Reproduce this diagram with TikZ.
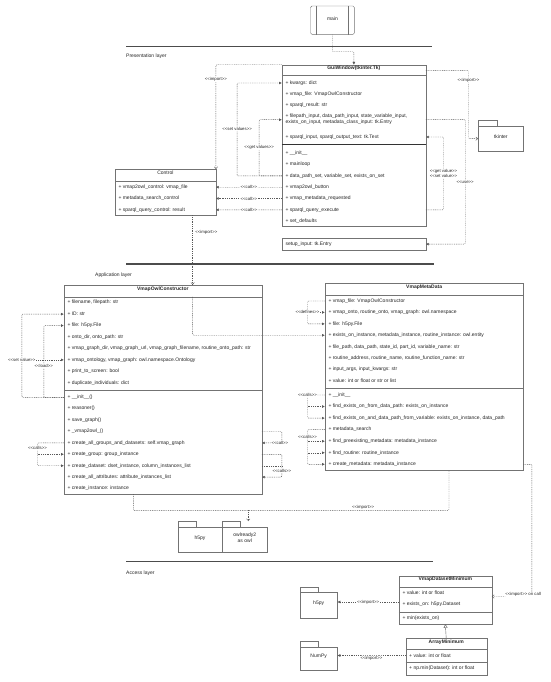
\documentclass[tikz,border=0pt]{standalone}
\usepackage{fontspec}
\setmainfont{Liberation Sans}
\usetikzlibrary{arrows.meta,positioning,fit}
\newcommand{\stype}[1]{<{}<#1>{}>}

\begin{document}
\begin{tikzpicture}[x=1pt,y=-1pt,thin,font=\fontsize{5}{6}\selectfont,text=black!85]
\tikzstyle{cls}=[draw=black!55, inner sep=0pt, fill=white]
\tikzstyle{hdr}=[cls, font=\fontsize{5}{6}\selectfont\bfseries]
\tikzstyle{attr}=[anchor=west, inner sep=0pt, align=left]
\tikzstyle{pkg}=[draw=black!55, inner sep=0pt, align=center]
\tikzstyle{layerline}=[draw=black!70, line width=1.4pt]
\tikzstyle{dep}=[draw=black!65, dash pattern=on 0.9pt off 0.9pt, rounded corners=1pt]
\tikzstyle{lbl}=[fill=white, inner sep=0.5pt, font=\fontsize{4.3}{4.8}\selectfont]
\tikzstyle{filledtip}=[-{Latex[length=2.8pt,width=2.8pt]}]
\tikzstyle{opentip}=[-{Straight Barb[length=2pt,width=3.4pt]}]

\fill[white] (0,0) rectangle (550,682);
\useasboundingbox (0,0) rectangle (550,682);

\node[cls, rounded corners=1.5pt, fit={(310.5,6) (354.4,34.4)}] (main) {main};
\draw[black!55] ([xshift=6pt]main.north west) -- ([xshift=6pt]main.south west)
  ([xshift=-6.4pt]main.north east) -- ([xshift=-6.4pt]main.south east);

\draw[layerline] (126,46.7) -- (432,46.7);
\node[attr] (presl) at (126,56) {Presentation layer};
\draw[layerline] (126,264) -- (434,264);
\node[attr] (appl) at (95,275) {Application layer};
\draw[layerline] (126,561.7) -- (433,561.7);
\node[attr] (accl) at (126,573) {Access layer};

\node[cls, fit={(282,65) (425.7,226)}] (gui) {};
\node[hdr, fit={(282,65) (425.7,75.7)}] (guit) {GuiWindow(tkinter.Tk)};
\draw[black!80, line width=0.6pt] (gui.west |- 0,144.7) -- (gui.east |- 0,144.7);
\foreach \t [count=\i] in {{+ kwargs: dict}, {+ vmap\_file: VmapOwlConstructor}, {+ sparql\_result: str}}
  \node[attr] (g\i) at (285.3,{83+11.3*(\i-1)}) {\t};
\node[attr] (g4) at (285.3,119.7) {+ filepath\_input, data\_path\_input, state\_variable\_input,\\exists\_on\_input, metadata\_class\_input: tk.Entry};
\node[attr] (g5) at (285.3,137) {+ sparql\_input, sparql\_output\_text: tk.Text};
\foreach \t [count=\i] in {{+ \_\_init\_\_}, {+ mainloop}, {+ data\_path\_set, variable\_set, exists\_on\_set}, {+ vmap2owl\_button}, {+ vmap\_metadata\_requested}, {+ sparql\_query\_execute}, {+ set\_defaults}}
  \node[attr] (m\i) at (285.3,{153.3+11.3*(\i-1)}) {\t};

\node[cls, fit={(282,238.3) (425.7,250)}] (setup) {};
\node[attr] (setupt) at (285.3,244.3) {setup\_input: tk.Entry};

\node[pkg, fit={(478.3,120.3) (496.7,126.3)}] (tkt) {};
\node[pkg, fit={(478.3,126.3) (523.3,151)}] (tkb) {tkinter};

\node[cls, fit={(115,169.3) (215.7,215)}] (control) {};
\node[cls, fit={(115,169.3) (215.7,180.7)}] (controlt) {Control};
\foreach \t [count=\i] in {{+ vmap2owl\_control: vmap\_file}, {+ metadata\_search\_control}, {+ sparql\_query\_control: result}}
  \node[attr] (c\i) at (118.3,{187.2+11.3*(\i-1)}) {\t};

\node[cls, fit={(64,285) (261.7,494)}] (owl) {};
\node[hdr, fit={(64,285) (261.7,296.7)}] (owlt) {VmapOwlConstructor};
\draw[black!55] (owl.west |- 0,389.7) -- (owl.east |- 0,389.7);
\foreach \t [count=\i] in {{+ filename, filepath: str}, {+ ID: str}, {+ file: h5py.File}, {+ onto\_dir, onto\_path: str}, {+ vmap\_graph\_dir, vmap\_graph\_url, vmap\_graph\_filename, routine\_onto\_path: str}, {+ vmap\_ontology, vmap\_graph: owl.namespace.Ontology}, {+ print\_to\_screen: bool}, {+ duplicate\_individuals: dict}}
  \node[attr] (oa\i) at (67.3,{302.7+11.43*(\i-1)}) {\t};
\foreach \t [count=\i] in {{+ \_\_init\_\_()}, {+ reasoner()}, {+ save\_graph()}, {+ \_vmap2owl\_()}, {+ create\_all\_groups\_and\_datasets: self.vmap\_graph}, {+ create\_group: group\_instance}, {+ create\_dataset: dset\_instance, column\_instances\_list}, {+ create\_all\_attributes: attribute\_instances\_list}, {+ create\_instance: instance}}
  \node[attr] (om\i) at (67.3,{397.3+11.4*(\i-1)}) {\t};

\node[cls, fit={(325,283.3) (523.3,470)}] (meta) {};
\node[hdr, fit={(325,283.3) (523.3,295)}] (metat) {VmapMetaData};
\draw[black!55] (meta.west |- 0,387.7) -- (meta.east |- 0,387.7);
\foreach \t [count=\i] in {{+ vmap\_file: VmapOwlConstructor}, {+ vmap\_onto, routine\_onto, vmap\_graph: owl.namespace}, {+ file: h5py.File}, {+ exists\_on\_instance, metadata\_instance, routine\_instance: owl.entity}, {+ file\_path, data\_path, state\_id, part\_id, variable\_name: str}, {+ routine\_address, routine\_name, routine\_function\_name: str}, {+ input\_args, input\_kwargs: str}, {+ value: int or float or str or list}}
  \node[attr] (e\i) at (328.3,{301+11.43*(\i-1)}) {\t};
\foreach \t [count=\i] in {{+ \_\_init\_\_}, {+ find\_exists\_on\_from\_data\_path: exists\_on\_instance}, {+ find\_exists\_on\_and\_data\_path\_from\_variable: exists\_on\_instance, data\_path}, {+ metadata\_search}, {+ find\_preexisting\_metadata: metadata\_instance}, {+ find\_routine: routine\_instance}, {+ create\_metadata: metadata\_instance}}
  \node[attr] (n\i) at (328.3,{395+11.55*(\i-1)}) {\t};

\node[pkg, fit={(177.7,521.3) (195.7,527.3)}] (h5t) {};
\node[pkg, fit={(177.7,527.3) (222.3,552.3)}] (h5b) {h5py};
\node[pkg, fit={(222.3,521.3) (240.3,527.3)}] (owt) {};
\node[pkg, fit={(222.3,527.3) (267.3,552.3)}] (owb) {owlready2\\as owl};

\node[cls, fit={(399,575.7) (491.7,624)}] (dsmin) {};
\node[hdr, fit={(399,575.7) (491.7,586.7)}] (dsmint) {VmapDatasetMinimum};
\draw[black!55] (dsmin.west |- 0,611.7) -- (dsmin.east |- 0,611.7);
\node[attr] (d1) at (402.3,593) {+ value: int or float};
\node[attr] (d2) at (402.3,604) {+ exists\_on: h5py.Dataset};
\node[attr] (d3) at (402.3,618.3) {+ min(exists\_on)};

\node[cls, fit={(405.7,638.3) (486.7,675)}] (arrmin) {};
\node[hdr, fit={(405.7,638.3) (486.7,649.3)}] (arrmint) {ArrayMinimum};
\draw[black!55] (arrmin.west |- 0,661.7) -- (arrmin.east |- 0,661.7);
\node[attr] (r1) at (409,655.5) {+ value: int or float};
\node[attr] (r2) at (409,668.5) {+ np.min(Dataset): int or float};

\node[pkg, fit={(300,586.7) (318.3,592.3)}] (h5at) {};
\node[pkg, fit={(300,592.3) (337.3,617.7)}] (h5ab) {h5py};
\node[pkg, fit={(300,641) (318.3,646.7)}] (npt) {};
\node[pkg, fit={(300,646.7) (337.3,670)}] (npb) {NumPy};

\draw[dep, filledtip] (main.south) -- ++(0,17.2) -| (gui.north);
\draw[dep, opentip] (gui.north west) -| node[lbl, pos=0.57]{\stype{import}} (control.north east);
\draw[dep, filledtip] (gui.west |- m3) -- ++(-44.7,0) |- node[lbl, pos=0.25]{\stype{set values}} (gui.west |- g1);
\draw[dep, filledtip] (gui.west |- m3) -- ++(-22.7,0) |- node[lbl, pos=0.25]{\stype{get values}} (gui.west |- g4);
\foreach \a/\b in {m4/c1, m5/c2, m6/c3}
  \draw[dep, filledtip] (gui.west |- \a) -- node[lbl]{\stype{call}} (control.east |- \b);
\draw[dep, opentip] (gui.east |- guit) -- ++(42.6,0) |- node[lbl, pos=0.07]{\stype{import}} (tkb.west);
\draw[dep, filledtip] (gui.east |- m6) -- ++(17.6,0) |- node[lbl, pos=0.25, align=center]{\stype{get value}\\\stype{set value}} (gui.east |- g5);
\draw[dep, filledtip] (gui.east |- g4) -- ++(39.3,0) |- node[lbl, pos=0.25]{\stype{use}} (setup.east);

\coordinate (ci) at ([xshift=27.3pt]control.south);
\draw[dep, opentip] (ci) -- node[lbl, right=2pt, pos=0.24, fill=none]{\stype{import}} (ci |- owl.north);
\draw[dep, filledtip] (ci |- owlt.south) |- (meta.west |- e4);

\draw[dep, filledtip] (owl.west |- om1) -- ++(-42,0) |- (owl.west |- oa2);
\draw[dep, filledtip] (owl.west |- om1) -- ++(-20,0) |- node[lbl, pos=0.22]{\stype{load}} (owl.west |- oa3);
\draw[dep, filledtip] (owl.west |- oa6) ++(-42,0) node[lbl]{\stype{set value}} -- (owl.west |- oa6);
\draw[dep, filledtip] (owl.west |- om5) -- ++(-26.3,0) |- node[lbl, pos=0.12]{\stype{calls}} (owl.west |- om7);
\draw[dep, filledtip] (owl.west |- om6) ++(-26.3,0) -- (owl.west |- om6);

\draw[dep, filledtip] (owl.east |- om4) -- ++(20,0) |- node[lbl, pos=0.55]{\stype{call}} (owl.east |- om5);
\draw[dep, filledtip] (owl.east |- om6) -- ++(20,0) |- node[lbl, pos=0.36]{\stype{calls}} (owl.east |- om8);
\draw[dep] (owl.east |- om7) -- ++(20,0);

\draw[dep, filledtip] (meta.west |- e1) -- ++(-17.3,0) |- (meta.west |- e3);
\draw[dep, filledtip] (meta.west |- e2) ++(-17.3,0) node[lbl]{\stype{defines}} -- (meta.west |- e2);
\draw[dep, filledtip] (meta.west |- n1) -- ++(-17.3,0) node[lbl]{\stype{calls}} |- (meta.west |- n3);
\draw[dep, filledtip] (meta.west |- n2) ++(-17.3,0) -- (meta.west |- n2);
\draw[dep, filledtip] (meta.west |- n4) -- ++(-17.3,0) |- node[lbl, pos=0.1]{\stype{calls}} (meta.west |- n7);
\foreach \a in {n5, n6}
  \draw[dep, filledtip] (meta.west |- \a) ++(-17.3,0) -- (meta.west |- \a);

\draw[dep] ([xshift=-29.55pt]owl.south) -- ++(0,16.2) -| node[lbl, pos=0.364, yshift=3pt]{\stype{import}} ([xshift=24.85pt]meta.south);
\coordinate (oa) at ([xshift=3.5pt]owb.north);
\draw[dep, opentip] (oa) ++(0,-17) -- (oa |- owt.north);

\path (dsmin.east |- d1) ++(0,3.5) coordinate (dsin);
\draw[dep, opentip] (meta.east |- n7) -- ++(8.4,0) |- node[lbl, pos=0.61, yshift=2pt]{\stype{import} on call} (dsin);
\path (dsmin.west |- d2) ++(0,-2) coordinate (dsout);
\draw[dep, filledtip] (dsout) -- node[lbl]{\stype{import}} (h5ab.east |- dsout);
\draw[dep, filledtip] (arrmin.west |- r1) -- node[lbl, yshift=-2.5pt]{\stype{import}} (npb.east |- r1);
\draw[black!60, -{Triangle[open, length=3.5pt, width=4pt]}] (arrmin.north) -- (dsmin.south);
\end{tikzpicture}
\end{document}
